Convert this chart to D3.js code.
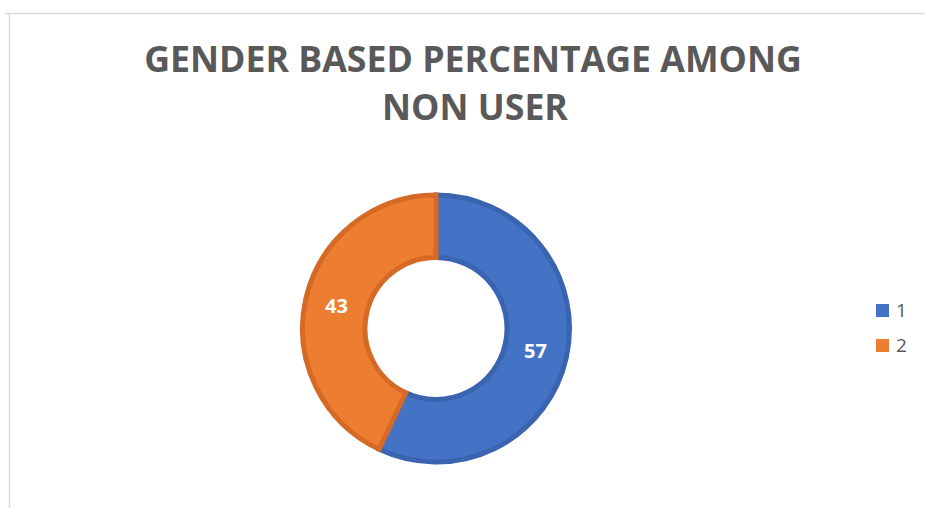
<!DOCTYPE html>
<html>
<head>
<meta charset="utf-8">
<script src="https://cdn.jsdelivr.net/npm/d3@7/dist/d3.min.js"></script>
<style>
  html, body { margin: 0; padding: 0; background: #ffffff; }
  svg { display: block; }
</style>
</head>
<body>
<svg id="chart" width="925" height="508"></svg>
<script>
// Chart data
const categories = ["1", "2"];
const values = [57, 43];
const titleLines = ["GENDER BASED PERCENTAGE AMONG", "NON USER"];

const fillColors = ["#4472C4", "#ED7D31"];
const edgeColors = ["#3A63B0", "#D46A25"];

const svg = d3.select("#chart");
const W = 925, H = 508;

// Chart area frame (top and left edges)
svg.append("line").attr("x1", 5).attr("x2", W).attr("y1", 13.5).attr("y2", 13.5)
  .attr("stroke", "#d9d9d9").attr("stroke-width", 1.5);
svg.append("line").attr("x1", 9.5).attr("x2", 9.5).attr("y1", 13).attr("y2", H)
  .attr("stroke", "#d9d9d9").attr("stroke-width", 1.5);

// Title, fitted to the desired line width
const titleG = svg.append("g").attr("font-family", "'Open Sans', sans-serif")
  .attr("font-weight", 700).attr("fill", "#595959").attr("text-anchor", "middle");
const t1 = titleG.append("text").attr("x", 473).attr("y", 72).attr("font-size", 34).text(titleLines[0]);
const w1 = t1.node().getComputedTextLength();
const fs = 34 * 658 / w1;
t1.attr("font-size", fs);
titleG.append("text").attr("x", 475).attr("y", 120).attr("font-size", fs).text(titleLines[1]);

// Donut
const cx = 436, cy = 328.5;
const outerR = 133.5, innerR = 71;
const pie = d3.pie().sort(null).value(d => d)(values);
const arc = d3.arc().innerRadius(innerR).outerRadius(outerR);
const labelArc = d3.arc().innerRadius(102).outerRadius(102);

const g = svg.append("g").attr("transform", `translate(${cx},${cy})`);
g.selectAll("path.slice").data(pie).join("path")
  .attr("class", "slice")
  .attr("d", arc)
  .attr("fill", (d, i) => fillColors[i])
  .attr("stroke", (d, i) => edgeColors[i])
  .attr("stroke-width", 5)
  .attr("stroke-linejoin", "miter");

g.selectAll("text.val").data(pie).join("text")
  .attr("class", "val")
  .attr("transform", d => `translate(${labelArc.centroid(d)})`)
  .attr("text-anchor", "middle")
  .attr("dy", "0.35em")
  .attr("font-family", "'Open Sans', sans-serif")
  .attr("font-weight", 700)
  .attr("font-size", 20)
  .attr("fill", "#ffffff")
  .text(d => d.data);

// Legend
const legendY = d3.scaleBand().domain(categories).range([293, 363]).paddingInner(0);
const leg = svg.append("g");
const items = leg.selectAll("g").data(categories).join("g")
  .attr("transform", d => `translate(876, ${legendY(d) + legendY.bandwidth() / 2})`);
items.append("rect").attr("x", 0).attr("y", -6.5).attr("width", 13).attr("height", 13)
  .attr("fill", (d, i) => fillColors[i]);
items.append("text").attr("x", 20).attr("y", 0).attr("dy", "0.36em")
  .attr("font-family", "'Open Sans', sans-serif").attr("font-size", 19)
  .attr("fill", "#595959").text(d => d);
</script>
</body>
</html>
